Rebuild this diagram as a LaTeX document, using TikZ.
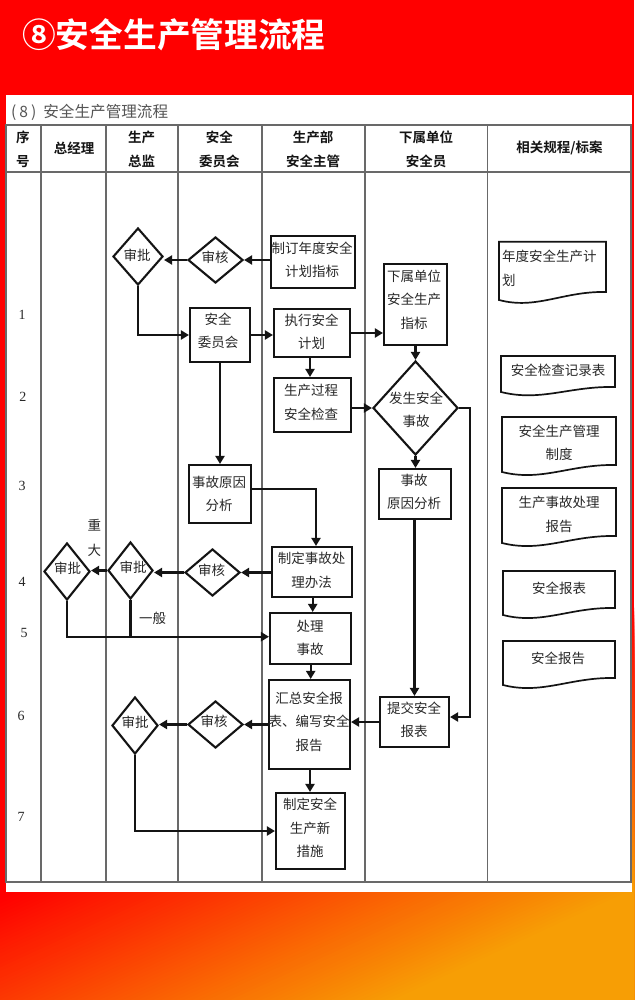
\documentclass[tikz,border=0pt]{standalone}
\usepackage{fontspec}
\setmainfont{Noto Sans CJK SC}[BoldFont={Noto Sans CJK SC Bold}]
\newfontfamily\numfont{Liberation Serif}
\usetikzlibrary{shapes.geometric,arrows.meta}
\definecolor{ink}{RGB}{20,20,20}
\definecolor{txtc}{RGB}{40,40,40}
\definecolor{gridc}{RGB}{105,105,105}
\definecolor{subc}{RGB}{85,85,85}
\definecolor{orangeend}{RGB}{247,158,5}
\tikzset{
 x=1pt,y=-1pt,
 gridline/.style={draw=gridc,line width=1.15pt},
 boxs/.style={draw=ink,line width=2.1pt,inner sep=0pt},
 dias/.style={diamond,draw=ink,line width=2.1pt,inner sep=0pt},
 txt/.style={inner sep=0pt,align=center,text=txtc,font=\fontsize{13.5}{23.5}\selectfont},
 head/.style={inner sep=0pt,align=center,text=ink,font=\bfseries\fontsize{13.5}{24}\selectfont},
 num/.style={inner sep=0pt,text=txtc,font=\numfont\fontsize{14}{14}\selectfont},
 conn/.style={draw=ink,line width=2.1pt},
 arr/.style={conn,-{Triangle[length=8pt,width=9pt]}},
 docs/.style={draw=ink,line width=1.7pt},
}
\newcommand\bx[8]{\node[boxs,minimum width={(#4-#2)*1pt},minimum height={(#5-#3)*1pt}] (#1) at ({(#2+#4)/2},{(#3+#5)/2}) {};
 \node[txt] (#1-t) at (#6,#7) {#8};}
\newcommand\dd[8]{\node[dias,minimum width={#4*1pt},minimum height={#5*1pt}] (#1) at (#2,#3) {};
 \node[txt] (#1-t) at (#6,#7) {#8};}
\newcommand\dc[5]{\draw[docs,line join=miter] (#1,#5) -- (#1,#2) -- (#3,#2) -- (#3,#4) .. controls ({#3-0.4*(#3-#1)},{#4-1}) and ({#1+0.35*(#3-#1)},{#5+10}) .. (#1,#5) -- cycle;}
\begin{document}
\begin{tikzpicture}
\useasboundingbox (0,0) rectangle (634,1000);
% background
\begin{scope}
\clip (0,0) rectangle (634,1000);
\fill[red] (0,0) rectangle (634,1000);
\foreach \i in {1,...,80}{
  \pgfmathsetmacro{\tval}{1953+(\i-1)*7.7125}
  \pgfmathsetmacro{\pct}{\i*1.25}
  \fill[orangeend!\pct!red] ({\tval-2.17*500},500) -- ({\tval-2.17*1100},1100) -- (1000,1100) -- (1000,500) -- cycle;
}
\end{scope}
\fill[white] (6,95) rectangle (632,892);
% title
\node[inner sep=0pt,anchor=west,text=white,font=\bfseries\fontsize{33.7}{34}\selectfont] (title) at (22,35) {⑧安全生产管理流程};
\node[inner sep=0pt,anchor=west,text=subc,font=\fontsize{15.6}{16}\selectfont] (sub) at (11,112) {(\hspace{3pt}8\hspace{3pt})\hspace{7pt}安全生产管理流程};
% table
\draw[gridline] (6,125) rectangle (631,882);
\draw[gridline] (6,172) -- (631,172);
\foreach \c in {41,106,178,262,365,487.5}{\draw[gridline] (\c,125) -- (\c,882);}
% header
\node[head] (h1) at (23,149) {序\\号};
\node[head] (h2) at (74,148) {总经理};
\node[head] (h3) at (141.7,149) {生产\\总监};
\node[head] (h4) at (219.4,149) {安全\\委员会};
\node[head] (h5) at (313,149) {生产部\\安全主管};
\node[head] (h6) at (426,149) {下属单位\\安全员};
\node[head] (h7) at (559.5,148) {相关规程/标案};
% row numbers
\node[num] (r1) at (22,314.5) {1};
\node[num] (r2) at (23,397) {2};
\node[num] (r3) at (22,486) {3};
\node[num] (r4) at (22,582) {4};
\node[num] (r5) at (24,633) {5};
\node[num] (r6) at (21,716) {6};
\node[num] (r7) at (21,817) {7};
% diamonds
\dd{sp1}{138}{256.5}{50}{57}{137}{255}{审批}
\dd{sh1}{215.5}{260}{55}{46}{215}{257.7}{审核}
\dd{sg}{415.5}{408}{85}{94}{416}{410}{发生安全\\事故}
\dd{spz}{67}{571.5}{46}{57}{67.7}{568}{审批}
\dd{sp2}{130.5}{570.5}{45}{57}{133}{567.7}{审批}
\dd{sh2}{212.5}{572.5}{55}{47}{211.7}{570.7}{审核}
\dd{sp3}{135}{725.5}{46}{57}{135}{722}{审批}
\dd{sh3}{215.5}{724.5}{55}{47}{214}{721}{审核}
% boxes
\bx{zd}{271}{236}{355}{288}{312}{259.7}{制订年度安全\\计划指标}
\bx{xs}{384}{264}{447}{345}{414}{299.7}{下属单位\\安全生产\\指标}
\bx{aw}{190}{308}{250}{362}{218}{331}{安全\\委员会}
\bx{zx}{274}{309}{350}{357}{311.7}{332}{执行安全\\计划}
\bx{sc}{274}{378}{351}{432}{311}{402.3}{生产过程\\安全检查}
\bx{yl}{189}{465}{251}{523}{219}{494}{事故原因\\分析}
\bx{yr}{379}{469}{451}{519}{414}{492}{事故\\原因分析}
\bx{zs}{272}{547}{352}{597}{311.7}{570.3}{制定事故处\\理办法}
\bx{cl}{270}{613}{351}{664}{310}{637.7}{处理\\事故}
\bx{hz}{269}{680}{350}{769}{309}{721.7}{汇总安全报\\表、编写安全\\报告}
\bx{tj}{380}{697}{449}{747}{414}{720}{提交安全\\报表}
\bx{cs}{276}{793}{345}{869}{310}{828}{制定安全\\生产新\\措施}
% connectors
\draw[arr] (zd.west |- sh1.east) -- (sh1.east);
\draw[arr] (sh1.west) -- (sh1.west -| sp1.east);
\draw[arr] (sp1.south) -- (sp1.south |- aw.west) -- (aw.west);
\draw[arr] (aw.east) -- (aw.east -| zx.west);
\draw[arr] (zx.east) -- (zx.east -| xs.west);
\draw[arr] (zx.south -| 310,0) -- (sc.north -| 310,0);
\draw[arr] (xs.south -| sg.north) -- (sg.north);
\draw[arr] (sc.east |- sg.west) -- (sg.west);
\draw[arr] (sg.south) -- (yr.north -| sg.south);
\draw[arr] (sg.east) -- (470.3,408) -- (470.3,717) -- (tj.east |- 0,717);
\draw[arr] (yr.south -| tj.north) -- (tj.north);
\draw[arr] (aw.south -| 220,0) -- (yl.north -| 220,0);
\draw[arr] (yl.east |- 0,488.7) -- (316,488.7) -- (zs.north -| 316,0);
\draw[arr] (zs.west |- sh2.east) -- (sh2.east);
\draw[arr] (sh2.west) -- (sh2.west -| sp2.east);
\draw[arr] (sp2.west) -- (sp2.west -| spz.east);
\draw[conn] (sp2.south) -- (sp2.south |- 0,636.7);
\draw[arr] (spz.south) -- (spz.south |- 0,636.7) -- (cl.west |- 0,636.7);
\draw[arr] (zs.south -| 312.7,0) -- (cl.north -| 312.7,0);
\draw[arr] (cl.south -| 310.7,0) -- (hz.north -| 310.7,0);
\draw[arr] (hz.south -| 310,0) -- (cs.north -| 310,0);
\draw[arr] (tj.west |- 0,722) -- (hz.east |- 0,722);
\draw[arr] (hz.west |- sh3.east) -- (sh3.east);
\draw[arr] (sh3.west) -- (sh3.west -| sp3.east);
\draw[arr] (sp3.south) -- (sp3.south |- cs.west) -- (cs.west);
% edge labels
\node[txt] (l1) at (94.3,525) {重};
\node[txt] (l2) at (94.3,550) {大};
\node[txt] (l3) at (152.7,618) {一般};
% documents
\dc{499}{241.7}{606}{292}{300}
\dc{501}{356}{615}{387}{392}
\dc{502}{417}{616}{465}{472}
\dc{502}{488}{616}{536}{543}
\dc{503}{571}{615}{608}{615}
\dc{503}{641}{615}{678}{685}
\node[txt,anchor=west] (d1) at (502,256) {年度安全生产计};
\node[txt,anchor=west] (d1b) at (502,280) {划};
\node[txt] (d2) at (558,370) {安全检查记录表};
\node[txt] (d3) at (559,443) {安全生产管理\\制度};
\node[txt] (d4) at (559,514.5) {生产事故处理\\报告};
\node[txt] (d5) at (559,588) {安全报表};
\node[txt] (d6) at (558,658) {安全报告};
\end{tikzpicture}
\end{document}
